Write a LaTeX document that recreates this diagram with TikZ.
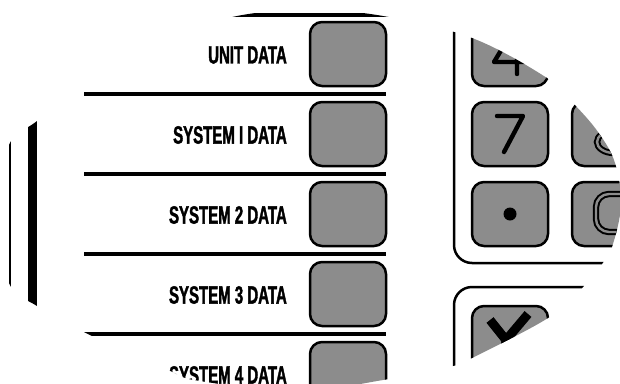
\documentclass[tikz,border=0pt]{standalone}
\usepackage{fontspec}
\newfontfamily\lblfont{Liberation Sans Bold}[FakeStretch=0.6,FakeBold=1.5]
\definecolor{keygray}{RGB}{140,140,140}

\begin{document}
\begin{tikzpicture}[x=1pt,y=-1pt,
  datalbl/.style={anchor=east,inner sep=0pt,font=\lblfont\fontsize{25}{25}\selectfont},
  softkey/.style={draw=black,fill=keygray,line width=2.5pt,rounded corners=12pt,
    minimum width=76pt,minimum height=64pt,inner sep=0pt},
  divider/.style={line width=4.5pt},
  bezel/.style={line width=2.5pt,rounded corners=18pt},
  glyph/.style={line width=4.4pt,line cap=round,line join=round}]
  \useasboundingbox (0,0) rectangle (620,383);
  \begin{scope}
  \clip plot[smooth cycle,tension=0.6] coordinates {(310,10) (383,16) (472,38) (547,78)
    (573,103) (598,132) (615,163) (621,205) (612,247) (602,264) (583,287) (548,318)
    (472,358) (453,366) (383,380) (300,391) (200,381) (168,370) (100,340) (37,306)
    (9,283) (-5,214) (9,145) (37,121) (100,74) (170,38) (237,16)};
  \fill[white] (0,0) rectangle (620,383);

  \draw[line width=2.5pt] (10,100) -- (10,330);
  \fill (28,80) rectangle (37,350);
  \draw[line width=4pt] (200,14.5) -- (420,14.5);

  \node[datalbl] (unit) at (287,55) {UNIT DATA};
  \node[datalbl] (sys1) at (287,135) {SYSTEM I DATA};
  \node[datalbl] (sys2) at (287,215) {SYSTEM 2 DATA};
  \node[datalbl] (sys3) at (287,295) {SYSTEM 3 DATA};
  \node[datalbl] (sys4) at (287,375) {SYSTEM 4 DATA};
  \node[softkey] (bunit) at (348,54) {};
  \node[softkey] (bsys1) at (348,134) {};
  \node[softkey] (bsys2) at (348,214) {};
  \node[softkey] (bsys3) at (348,294) {};
  \node[softkey] (bsys4) at (348,374) {};
  \draw[divider] (84,94) -- (386,94);
  \draw[divider] (84,174) -- (386,174);
  \draw[divider] (84,254) -- (386,254);
  \draw[divider] (84,334) -- (386,334);

  \draw[bezel] (454,-10) -- (454,263) -- (660,263);
  \draw[bezel] (660,287) -- (454,287) -- (454,400);
  \node[softkey] (kfour) at (510,54) {};
  \node[softkey] (kseven) at (510,134) {};
  \node[softkey] (keight) at (610,134) {};
  \node[softkey] (kdot) at (510,214) {};
  \node[softkey] (kzero) at (610,214) {};
  \node[softkey] (kyes) at (510,338) {};
  \draw[glyph] (517,24) -- (494,62) -- (527,62) (517,45) -- (517,74);
  \draw[glyph] (497,116) -- (523,116) -- (504,152);
  \draw[draw=black,double=keygray,double distance=2.4pt,line width=2pt]
    (614,142) ellipse (17pt and 11pt) (614,118) ellipse (14pt and 10pt);
  \fill (510,214) circle (6.5pt);
  \draw[draw=black,double=keygray,double distance=2.4pt,line width=2pt,rounded corners=13pt]
    (596,194) rectangle (634,232);
  \draw[line width=9pt,line join=bevel] (490,320) -- (506,340) -- (528,314);
  \draw[line width=9pt] (506,338) -- (504,372);
  \end{scope}
\end{tikzpicture}
\end{document}
